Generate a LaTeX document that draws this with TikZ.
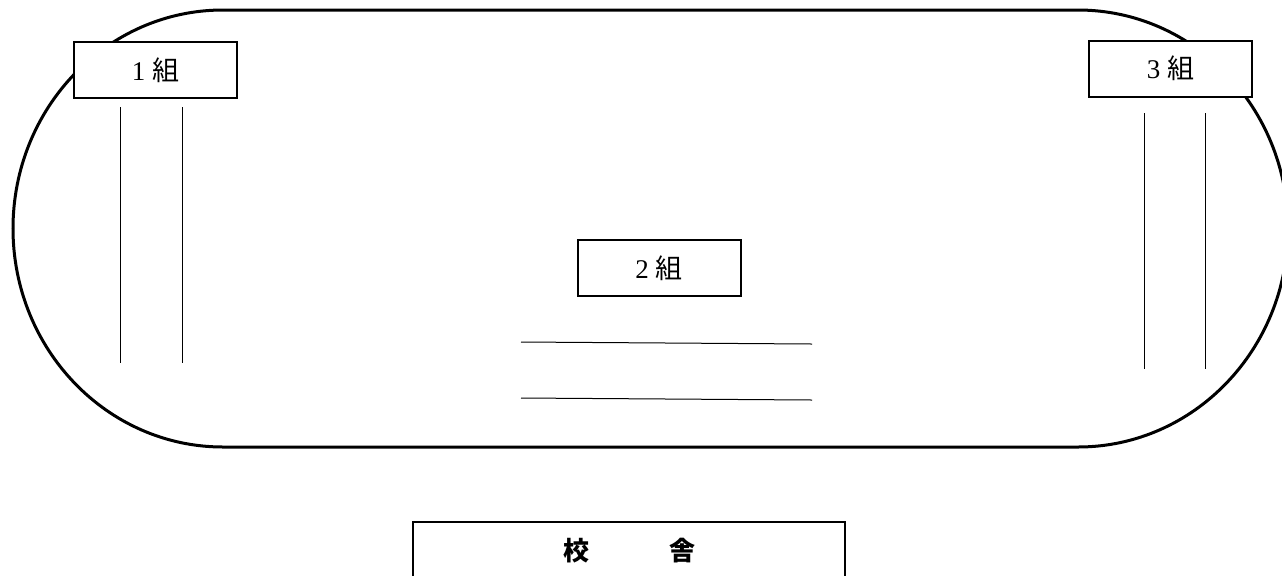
\documentclass[tikz,border=0pt]{standalone}
\usepackage{fontspec}
\setmainfont{Liberation Serif}
\newfontfamily\cjk{Noto Sans CJK JP}
\begin{document}
\begin{tikzpicture}[x=0.5pt,y=0.5pt,
  track/.style={line width=1.5pt},
  classbox/.style={draw,line width=1pt,fill=white,minimum width=81.5pt,minimum height=28pt,inner sep=0pt,font=\fontsize{13.5}{15}\selectfont},
  lane/.style={line width=0.5pt}]
\useasboundingbox (0,0) rectangle (1282,-575);
\clip (0,0) rectangle (1282,-575);
% track
\draw[track] (223,-10) -- (1078,-10)
  arc[start angle=90,end angle=-90,x radius=105pt,y radius=109.25pt]
  -- (223,-447)
  arc[start angle=270,end angle=90,x radius=105pt,y radius=109.25pt] -- cycle;
% lanes
\coordinate (a1) at (120.5,-107); \coordinate (a2) at (120.5,-363);
\coordinate (b1) at (182.5,-107); \coordinate (b2) at (182.5,-363);
\coordinate (c1) at (1144.5,-113); \coordinate (c2) at (1144.5,-369);
\coordinate (d1) at (1205.5,-113); \coordinate (d2) at (1205.5,-369);
\coordinate (e1) at (521,-342); \coordinate (e2) at (812,-344);
\coordinate (f1) at (521,-398); \coordinate (f2) at (812,-400);
\draw[lane] (a1) -- (a2);
\draw[lane] (b1) -- (b2);
\draw[lane] (c1) -- (c2);
\draw[lane] (d1) -- (d2);
\draw[lane] (e1) -- (e2);
\draw[lane] (f1) -- (f2);
% class boxes
\node[classbox] (k1) at (155.5,-70) {1 {\cjk 組}};
\node[classbox] (k3) at (1170.5,-68.5) {3 {\cjk 組}};
\node[classbox] (k2) at (659,-268) {2 {\cjk 組}};
% school building
\draw[line width=1pt] (413,-650) -- (413,-522) -- (844.5,-522) -- (844.5,-650);
\node[font=\fontsize{13}{15}\selectfont\cjk\bfseries,inner sep=0pt] (school) at (629,-551) {校\hspace{40pt}舎};
\end{tikzpicture}
\end{document}
